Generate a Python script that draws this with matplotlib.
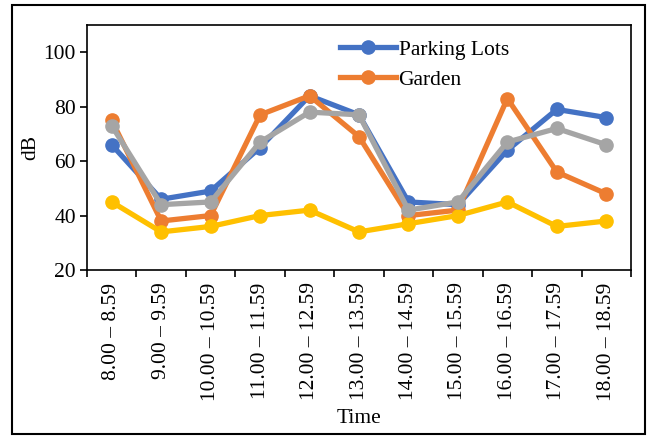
import numpy as np
import matplotlib.pyplot as plt
from matplotlib.patches import Rectangle

plt.rcParams['font.family'] = ['Liberation Serif', 'DejaVu Serif']

time_labels = ["8.00 – 8.59", "9.00 – 9.59", "10.00 – 10.59", "11.00 – 11.59",
               "12.00 – 12.59", "13.00 – 13.59", "14.00 – 14.59", "15.00 – 15.59",
               "16.00 – 16.59", "17.00 – 17.59", "18.00 – 18.59"]
parking_lots = [66, 46, 49, 65, 84, 77, 45, 44, 64, 79, 76]
garden = [75, 38, 40, 77, 84, 69, 40, 42, 83, 56, 48]
series_gray = [73, 44, 45, 67, 78, 77, 42, 45, 67, 72, 66]
series_yellow = [45, 34, 36, 40, 42, 34, 37, 40, 45, 36, 38]

fs = 15.5

fig = plt.figure(figsize=(6.55, 4.37), dpi=100)
fig.patches.append(Rectangle((12 / 655, 3 / 437), 633 / 655, 429 / 437,
                             transform=fig.transFigure, fill=False,
                             edgecolor='black', linewidth=1.5))

ax = fig.add_axes([87 / 655, 167 / 437, 544 / 655, 245 / 437])
x = np.arange(len(time_labels))
style = dict(linewidth=3.8, marker='o', markersize=9.5)

ax.plot(x, parking_lots, color='#4472C4', label='Parking Lots', **style)
ax.plot(x, garden, color='#ED7D31', label='Garden', **style)
ax.plot(x, series_yellow, color='#FFC000', **style)
ax.plot(x, series_gray, color='#A5A5A5', **style)

ax.set_xlim(-0.5, len(time_labels) - 0.5)
ax.set_ylim(20, 110)
ax.set_yticks([20, 40, 60, 80, 100])
ax.set_xticks(x)
ax.set_xticklabels(time_labels, rotation=90, fontsize=fs)
ax.set_xticks(np.arange(-0.5, len(time_labels)), minor=True)
ax.tick_params(axis='x', which='major', length=0, pad=9)
ax.tick_params(axis='x', which='minor', length=5, width=1.2, direction='out')
ax.tick_params(axis='y', labelsize=fs, length=5, width=1.2, pad=3)
for s in ax.spines.values():
    s.set_linewidth(1.2)

ax.set_ylabel('dB', fontsize=fs, labelpad=2)
ax.set_xlabel('Time', fontsize=fs, labelpad=6)

ax.legend(loc='upper left', bbox_to_anchor=(0.45, 0.975),
          frameon=False, fontsize=fs, handlelength=2.6, handletextpad=0.1,
          labelspacing=0.45, borderaxespad=0)

fig.savefig('out.png', dpi=100)
